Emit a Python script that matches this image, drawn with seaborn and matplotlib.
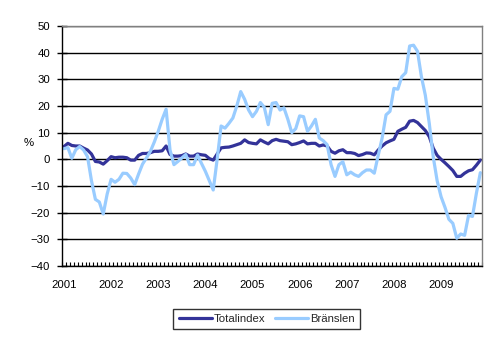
import numpy as np
import pandas as pd
import matplotlib
matplotlib.use("Agg")
import matplotlib.pyplot as plt
from matplotlib.ticker import MultipleLocator, FixedLocator, NullFormatter
import seaborn as sns

# Year labels on the category axis (monthly data, Jan 2001 - Nov 2009)
years = ["2001", "2002", "2003", "2004", "2005", "2006", "2007", "2008", "2009"]

# Annual change, %
totalindex = [
    4.8, 6.0, 5.2, 5.0, 5.0, 4.2, 3.5, 2.0, -0.8, -1.0, -1.8, -0.5,   # 2001
    1.0, 0.6, 0.8, 0.8, 0.6, -0.3, -0.3, 1.5, 2.2, 2.2, 2.5, 3.0,     # 2002
    3.0, 3.2, 5.0, 1.8, 1.2, 1.2, 1.4, 2.0, 1.2, 1.2, 2.0, 1.7,       # 2003
    1.5, 0.3, -0.3, 2.0, 4.3, 4.5, 4.6, 5.0, 5.5, 6.0, 7.3, 6.3,      # 2004
    6.0, 5.8, 7.3, 6.5, 5.8, 7.0, 7.5, 7.0, 6.8, 6.6, 5.5, 5.8,       # 2005
    6.3, 6.9, 5.8, 6.0, 6.0, 5.0, 5.4, 5.0, 3.0, 2.3, 3.2, 3.6,       # 2006
    2.5, 2.5, 2.2, 1.4, 1.8, 2.4, 2.3, 1.7, 3.5, 5.0, 6.2, 6.9,       # 2007
    7.5, 10.5, 11.3, 12.0, 14.3, 14.6, 13.8, 12.3, 10.8, 8.5, 4.2, 1.5,  # 2008
    0.0, -1.3, -2.7, -4.2, -6.4, -6.4, -5.2, -4.3, -3.9, -2.2, -0.3,  # 2009
]

branslen = [
    4.0, 4.4, 0.4, 3.6, 4.8, 3.5, 1.0, -8.0, -15.0, -16.0, -20.5, -13.0,   # 2001
    -7.5, -8.6, -7.5, -5.2, -5.3, -7.0, -9.5, -5.5, -1.8, 0.5, 3.0, 6.5,   # 2002
    10.5, 15.0, 18.8, 3.5, -2.0, -0.8, 0.5, 1.8, -2.0, -2.0, 1.6, -1.5,    # 2003
    -4.5, -8.0, -11.5, 0.0, 12.5, 11.7, 13.5, 15.5, 20.0, 25.4, 22.5, 18.5,  # 2004
    16.0, 18.0, 21.3, 19.5, 13.0, 21.0, 21.3, 18.5, 19.3, 15.0, 10.0, 11.5,  # 2005
    16.3, 16.0, 10.5, 12.5, 15.0, 8.0, 7.0, 5.5, -2.0, -6.4, -2.0, -0.9,    # 2006
    -5.8, -4.8, -5.8, -6.4, -5.0, -4.0, -4.0, -5.2, 1.5, 8.0, 16.7, 18.0,   # 2007
    26.6, 26.3, 31.0, 32.5, 42.5, 42.8, 40.5, 31.0, 24.0, 13.5, 1.0, -8.0,  # 2008
    -14.0, -18.0, -22.5, -24.0, -29.6, -28.0, -28.5, -21.0, -21.4, -12.7, -5.0,  # 2009
]

series_names = ["Totalindex", "Bränslen"]
colors = {"Totalindex": "#333399", "Bränslen": "#99CCFF"}

n = len(totalindex)
df = pd.DataFrame({"month": np.arange(n), "Totalindex": totalindex, "Bränslen": branslen})
long = df.melt(id_vars="month", var_name="serie", value_name="value")

sns.set_theme(style="white")
plt.rcParams["font.family"] = ["Liberation Sans", "DejaVu Sans"]

FS = 8.2

fig = plt.figure(figsize=(4.97, 3.40), dpi=100)
fig.patch.set_facecolor("white")
ax = fig.add_axes([62 / 497, 1 - 266 / 340, (482.3 - 62) / 497, (266 - 26) / 340])

sns.lineplot(data=long, x="month", y="value", hue="serie", hue_order=series_names,
             palette=colors, linewidth=2.3, ax=ax, legend=False)

ax.set_xlim(-0.5, n - 0.5)
ax.set_ylim(-40, 50)
ax.set_xlabel("")
ax.set_ylabel("")

# Horizontal gridlines
ax.set_axisbelow(True)
ax.yaxis.set_major_locator(MultipleLocator(10))
ax.yaxis.grid(True, color="black", linewidth=1.0)
ax.xaxis.grid(False)

# Spines
for side in ("left", "bottom"):
    ax.spines[side].set_color("black")
    ax.spines[side].set_linewidth(1.0)
for side in ("top", "right"):
    ax.spines[side].set_color("#808080")
    ax.spines[side].set_linewidth(1.0)

# Y ticks crossing the axis
ax.tick_params(axis="y", which="major", left=True, direction="inout", length=7,
               width=1, color="black", labelsize=FS, labelcolor="black", pad=5)

# Year labels at January, month ticks between categories
jan_pos = [12 * i for i in range(len(years))]
ax.xaxis.set_major_locator(FixedLocator(jan_pos))
ax.set_xticklabels(years)
ax.xaxis.set_minor_locator(FixedLocator(np.arange(-0.5, n, 1.0)))
ax.xaxis.set_minor_formatter(NullFormatter())
ax.tick_params(axis="x", which="major", bottom=True, length=0, labelsize=FS,
               labelcolor="black", pad=10)
ax.tick_params(axis="x", which="minor", bottom=True, direction="in", length=3,
               width=0.8, color="black")

fig.text(29 / 497, 1 - 143 / 340, "%", fontsize=FS, ha="center", va="center", color="black")

handles = [plt.Line2D([], [], color=colors[s], linewidth=2.3) for s in series_names]
leg = fig.legend(handles, series_names, loc="center", bbox_to_anchor=(266.5 / 497, 1 - 319 / 340),
                 ncol=2, frameon=True, fancybox=False, fontsize=FS, handlelength=2.9,
                 handletextpad=0.2, columnspacing=0.8, borderpad=0.45, borderaxespad=0)
leg.get_frame().set_edgecolor("black")
leg.get_frame().set_linewidth(1.0)

fig.savefig("out.png", dpi=100, facecolor="white")
